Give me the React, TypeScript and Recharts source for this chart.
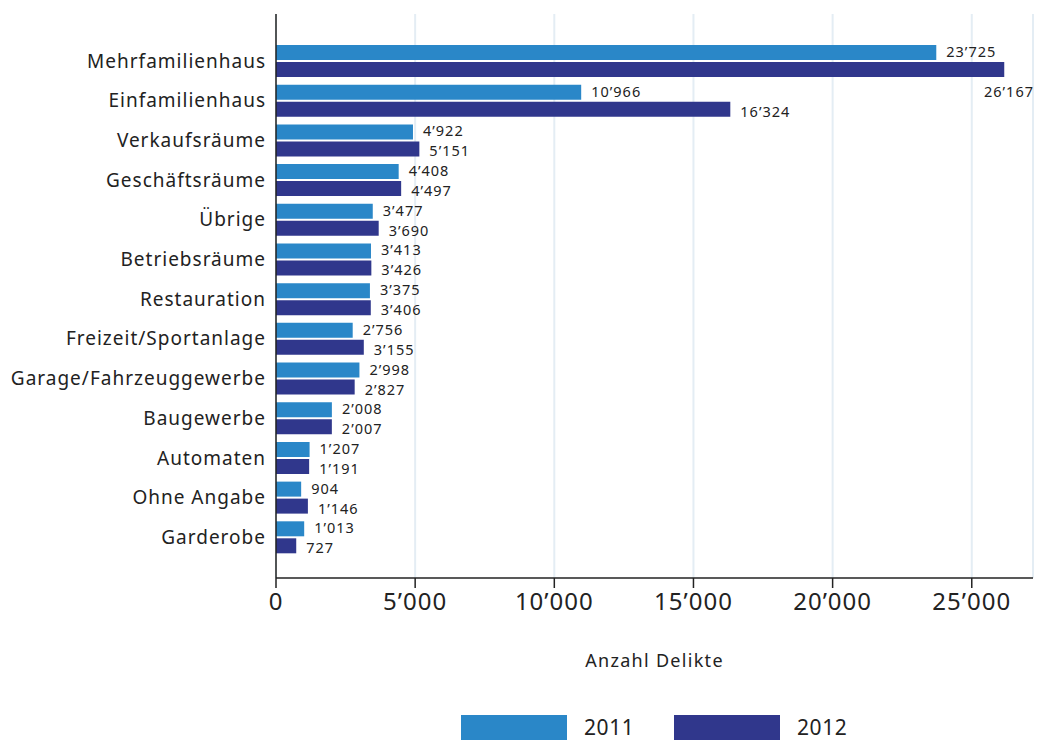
import React from 'react';
import {
  BarChart,
  Bar,
  XAxis,
  YAxis,
  CartesianGrid,
  Legend,
  LabelList,
} from 'recharts';

const kategorien = [
  'Mehrfamilienhaus',
  'Einfamilienhaus',
  'Verkaufsräume',
  'Geschäftsräume',
  'Übrige',
  'Betriebsräume',
  'Restauration',
  'Freizeit/Sportanlage',
  'Garage/Fahrzeuggewerbe',
  'Baugewerbe',
  'Automaten',
  'Ohne Angabe',
  'Garderobe',
];

const werte2011 = [23725, 10966, 4922, 4408, 3477, 3413, 3375, 2756, 2998, 2008, 1207, 904, 1013];
const werte2012 = [26167, 16324, 5151, 4497, 3690, 3426, 3406, 3155, 2827, 2007, 1191, 1146, 727];

const xTicks = [0, 5000, 10000, 15000, 20000, 25000];

const FARBE_2011 = '#2a87c8';
const FARBE_2012 = '#30378c';
const FONT = '"Noto Sans", sans-serif';

const daten = kategorien.map((name, i) => ({
  name,
  v2011: werte2011[i],
  v2012: werte2012[i],
}));

// Tausendertrennzeichen wie im Original: 23’725
const formatZahl = (v: number) =>
  String(Math.round(v)).replace(/\B(?=(\d{3})+(?!\d))/g, '’');

const CHART_W = 1027;
const CHART_H = 732;

// dy: kleine Verschiebung, damit sich die Beschriftungen der zwei Balken nicht berühren
const makeLabel = (dy: number) => (props: any) => {
  const { x, y, width, height, value } = props;
  const ende = x + width;
  const text = formatZahl(value);
  // zu lang für den Plotbereich -> unter den Balken, rechtsbündig
  if (ende > 960) {
    return (
      <text
        x={CHART_W - 1}
        y={y + height + 14}
        textAnchor="end"
        dominantBaseline="central"
        fontSize={14.5}
        letterSpacing={1}
        fontFamily={FONT}
        fill="#222"
      >
        {text}
      </text>
    );
  }
  return (
    <text
      x={ende + 10}
      y={y + height / 2 + dy}
      textAnchor="start"
      dominantBaseline="central"
      fontSize={14.5}
      letterSpacing={1}
      fontFamily={FONT}
      fill="#222"
    >
      {text}
    </text>
  );
};

const LegendeInhalt = () => (
  <div style={{ position: 'relative', width: CHART_W, height: 25, fontFamily: FONT }}>
    <div style={{ position: 'absolute', left: 453, top: 0, width: 106, height: 25, background: FARBE_2011 }} />
    <div style={{ position: 'absolute', left: 576, top: 0, lineHeight: '25px', fontSize: 21, letterSpacing: 0.6, color: '#222' }}>2011</div>
    <div style={{ position: 'absolute', left: 666, top: 0, width: 106, height: 25, background: FARBE_2012 }} />
    <div style={{ position: 'absolute', left: 789, top: 0, lineHeight: '25px', fontSize: 21, letterSpacing: 0.6, color: '#222' }}>2012</div>
  </div>
);

const App: React.FC = () => {
  return (
    <div style={{ width: CHART_W, height: CHART_H }}>
      <BarChart
        width={CHART_W}
        height={CHART_H}
        data={daten}
        layout="vertical"
        margin={{ top: 6, right: 2, left: 0, bottom: 0 }}
        barSize={15}
        barGap={2}
      >
        <CartesianGrid horizontal={false} stroke="#e4edf4" strokeWidth={2} />
        <XAxis
          type="number"
          domain={[0, 27200]}
          ticks={xTicks}
          tickFormatter={formatZahl}
          height={137}
          tickSize={10}
          tickMargin={5}
          stroke="#222"
          strokeWidth={1.5}
          tick={{ fontSize: 24, fontFamily: FONT, fill: '#222', letterSpacing: 1 }}
          label={{
            value: 'Anzahl Delikte',
            position: 'insideBottom',
            offset: 48,
            fontSize: 18,
            fontFamily: FONT,
            letterSpacing: 1.3,
            fill: '#222',
          }}
        />
        <YAxis
          type="category"
          dataKey="name"
          width={268}
          padding={{ top: 27, bottom: 21 }}
          tickLine={false}
          tickSize={0}
          tickMargin={10}
          stroke="#222"
          strokeWidth={1.5}
          tick={{ fontSize: 19, fontFamily: FONT, fill: '#222', letterSpacing: 1 }}
          interval={0}
        />
        <Legend verticalAlign="bottom" align="left" height={25} content={LegendeInhalt} />
        <Bar dataKey="v2011" name="2011" fill={FARBE_2011} isAnimationActive={false}>
          <LabelList dataKey="v2011" content={makeLabel(-1.5)} />
        </Bar>
        <Bar dataKey="v2012" name="2012" fill={FARBE_2012} isAnimationActive={false}>
          <LabelList dataKey="v2012" content={makeLabel(1.5)} />
        </Bar>
      </BarChart>
    </div>
  );
};

export default App;
